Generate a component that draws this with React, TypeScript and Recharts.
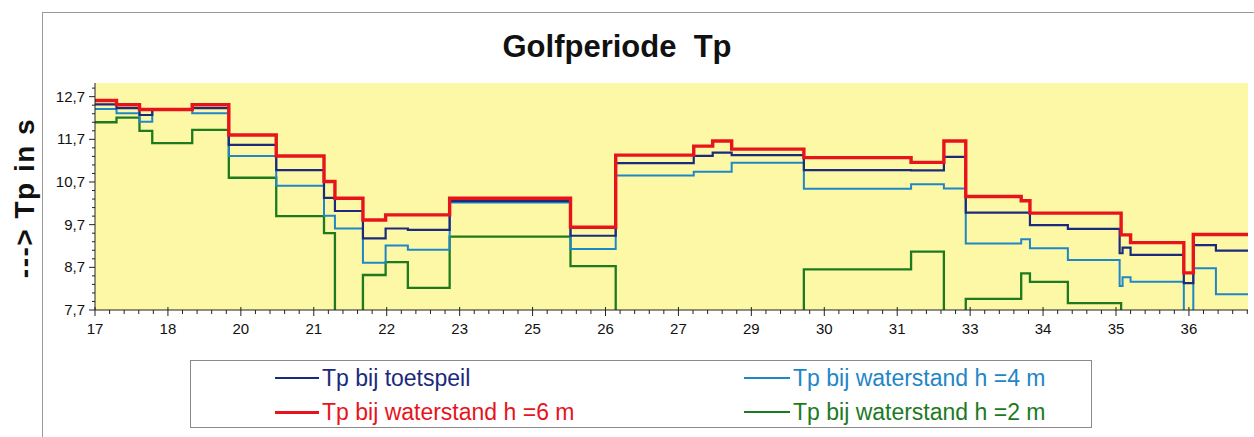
import React from 'react';
import { LineChart, Line, XAxis, YAxis, CartesianGrid } from 'recharts';

// Tick labels (dijkpaal numbers) at evenly spaced positions 0..15
const xTickLabels = ['17', '18', '20', '21', '22', '23', '25', '26', '27', '29', '30', '31', '33', '34', '35', '36'];
const X_MAX = 15.81;
const Y_MIN = 7.7;
const Y_MAX = 13.02;
const BELOW = 7.0; // values below the axis (off-chart)

// [position, Tp] step series (stepAfter)
const tpToetspeil: [number, number][] = [
  [0, 12.52], [0.295, 12.43], [0.61, 12.27], [0.785, 12.4], [1.333, 12.43], [1.835, 11.57],
  [2.485, 10.98], [3.14, 10.33], [3.29, 10.02], [3.674, 9.38], [3.985, 9.61], [4.29, 9.58],
  [4.863, 10.25], [6.52, 9.44], [7.14, 11.14], [8.21, 11.31], [8.47, 11.39], [8.73, 11.33],
  [9.72, 10.98], [11.19, 10.97], [11.64, 11.29], [11.94, 9.98], [12.82, 9.69], [13.34, 9.6],
  [14.05, 9.03], [14.09, 9.16], [14.2, 8.99], [14.93, 8.33], [15.06, 9.22], [15.37, 9.09],
  [15.81, 9.09],
];

const tpH6: [number, number][] = [
  [0, 12.61], [0.295, 12.51], [0.61, 12.4], [1.333, 12.51], [1.835, 11.8], [2.485, 11.31],
  [3.14, 10.71], [3.29, 10.32], [3.674, 9.81], [3.985, 9.93], [4.863, 10.32], [6.52, 9.64],
  [7.14, 11.33], [8.21, 11.54], [8.47, 11.66], [8.73, 11.47], [9.72, 11.27], [11.19, 11.16],
  [11.64, 11.66], [11.94, 10.36], [12.7, 10.26], [12.82, 9.97], [14.07, 9.46], [14.2, 9.28],
  [14.93, 8.57], [15.06, 9.47], [15.81, 9.47],
];

const tpH4: [number, number][] = [
  [0, 12.41], [0.295, 12.31], [0.61, 12.11], [0.785, 12.39], [1.333, 12.31], [1.835, 11.31],
  [2.485, 10.61], [3.14, 9.91], [3.29, 9.61], [3.674, 8.81], [3.985, 9.21], [4.29, 9.11],
  [4.863, 10.22], [6.52, 9.13], [7.14, 10.85], [8.21, 10.94], [8.73, 11.15], [9.72, 10.54],
  [11.19, 10.65], [11.64, 10.55], [11.94, 9.26], [12.7, 9.36], [12.82, 9.15], [13.34, 8.87],
  [14.05, 8.26], [14.09, 8.47], [14.2, 8.36], [14.93, BELOW], [15.06, 8.68], [15.37, 8.07],
  [15.81, 8.07],
];

const tpH2: [number, number][] = [
  [0, 12.1], [0.295, 12.21], [0.61, 11.9], [0.785, 11.61], [1.333, 11.92], [1.835, 10.8],
  [2.485, 9.9], [3.14, 9.5], [3.29, BELOW], [3.674, 8.52], [3.985, 8.82], [4.29, 8.22],
  [4.863, 9.42], [6.52, 8.73], [7.14, BELOW], [9.72, 8.65], [11.19, 9.07], [11.64, BELOW],
  [11.94, 7.96], [12.7, 8.56], [12.82, 8.36], [13.34, 7.86], [14.07, BELOW], [15.81, BELOW],
];

const series = [
  { name: 'Tp bij waterstand h =2 m', data: tpH2, color: '#1d7a1f', width: 2.3 },
  { name: 'Tp bij waterstand h =4 m', data: tpH4, color: '#1f86c8', width: 2 },
  { name: 'Tp bij toetspeil', data: tpToetspeil, color: '#1c2a7c', width: 2.2 },
  { name: 'Tp bij waterstand h =6 m', data: tpH6, color: '#e8141c', width: 3.4 },
];

const xTicks = Array.from({ length: 80 }, (_, i) => i / 5);
const yTicks = Array.from({ length: 27 }, (_, i) => Y_MIN + i * 0.2);

const FONT = '"Liberation Sans", Arial, sans-serif';

const XTick = (props: any) => {
  const { x, y, payload } = props;
  const idx = Math.round(payload.value * 5);
  const major = idx % 5 === 0;
  return (
    <g>
      <line x1={x} x2={x} y1={major ? y - 3 : y} y2={major ? y + 6 : y + 4} stroke="#222" strokeWidth={1} />
      {major && (
        <text x={x} y={y + 24} textAnchor="middle" fontSize={15} fontFamily={FONT} fill="#111">
          {xTickLabels[idx / 5]}
        </text>
      )}
    </g>
  );
};

const YTick = (props: any) => {
  const { x, y, payload } = props;
  const idx = Math.round((payload.value - Y_MIN) / 0.2);
  const major = idx % 5 === 0;
  return (
    <g>
      <line x1={major ? x - 6 : x - 3} x2={x} y1={y} y2={y} stroke="#222" strokeWidth={1} />
      {major && (
        <text x={x - 10} y={y + 5} textAnchor="end" fontSize={15} fontFamily={FONT} fill="#111">
          {(Y_MIN + idx * 0.2).toFixed(1).replace('.', ',')}
        </text>
      )}
    </g>
  );
};

const legendRows = [
  [series[2], series[1]],
  [series[3], series[0]],
];

export default function App() {
  return (
    <div
      style={{
        position: 'absolute',
        left: 0,
        top: 0,
        width: 1254,
        height: 437,
        background: '#ffffff',
        overflow: 'hidden',
        fontFamily: FONT,
      }}
    >
      <div
        style={{
          position: 'absolute',
          left: 42,
          top: 12,
          width: 1300,
          height: 500,
          border: '1px solid #9a9a9a',
        }}
      />
      <div
        style={{
          position: 'absolute',
          left: 0,
          width: 1254,
          top: 29,
          textAlign: 'center',
          fontSize: 31,
          fontWeight: 'bold',
          whiteSpace: 'pre',
          color: '#111',
        }}
      >
        <span style={{ position: 'relative', left: -10 }}>Golfperiode  Tp</span>
      </div>
      <div
        style={{
          position: 'absolute',
          left: 25,
          top: 198,
          transform: 'translate(-50%, -50%) rotate(-90deg)',
          fontSize: 28,
          fontWeight: 'bold',
          whiteSpace: 'pre',
          letterSpacing: 1.5,
          color: '#111',
        }}
      >
        {'---> Tp in s'}
      </div>
      <LineChart
        width={1254}
        height={437}
        margin={{ top: 83, right: 6, bottom: 97, left: 50 }}
        style={{ position: 'absolute', left: 0, top: 0 }}
      >
        <CartesianGrid horizontal={false} vertical={false} fill="#fcf8a6" fillOpacity={1} xAxisId="x" yAxisId="y" />
        <XAxis
          xAxisId="t"
          orientation="top"
          type="number"
          dataKey="x"
          domain={[0, X_MAX]}
          height={0}
          tick={false}
          tickLine={false}
          axisLine={{ stroke: '#555' }}
          allowDataOverflow
        />
        <YAxis
          yAxisId="r"
          orientation="right"
          type="number"
          domain={[Y_MIN, Y_MAX]}
          width={0}
          tick={false}
          tickLine={false}
          axisLine={{ stroke: '#555' }}
          allowDataOverflow
        />
        <XAxis
          xAxisId="x"
          type="number"
          dataKey="x"
          domain={[0, X_MAX]}
          ticks={xTicks}
          interval={0}
          height={30}
          tickSize={0}
          tickMargin={0}
          tickLine={false}
          axisLine={{ stroke: '#222' }}
          tick={(p: any) => <XTick {...p} />}
          allowDataOverflow
        />
        <YAxis
          yAxisId="y"
          type="number"
          domain={[Y_MIN, Y_MAX]}
          ticks={yTicks}
          interval={0}
          width={45}
          tickSize={0}
          tickMargin={0}
          tickLine={false}
          axisLine={{ stroke: '#222' }}
          tick={(p: any) => <YTick {...p} />}
          allowDataOverflow
        />
        {series.map((s) => (
          <Line
            key={s.name}
            xAxisId="x"
            yAxisId="y"
            data={s.data.map(([x, v]) => ({ x, v }))}
            dataKey="v"
            type="stepAfter"
            stroke={s.color}
            strokeWidth={s.width}
            dot={false}
            activeDot={false}
            isAnimationActive={false}
            name={s.name}
          />
        ))}
      </LineChart>
      <div
        style={{
          position: 'absolute',
          left: 190,
          top: 360,
          width: 902,
          height: 68,
          border: '1px solid #8a8a8a',
          boxSizing: 'border-box',
        }}
      />
      {legendRows.map((row, r) =>
        row.map((s, c) => (
          <div
            key={s.name}
            style={{
              position: 'absolute',
              left: c === 0 ? 275 : 744,
              top: r === 0 ? 364 : 398,
              height: 28,
              display: 'flex',
              alignItems: 'center',
              fontSize: 23,
              color: s.color,
              whiteSpace: 'pre',
            }}
          >
            <span
              style={{
                display: 'inline-block',
                width: c === 0 ? 44 : 46,
                height: s.width > 3 ? 3 : 2,
                background: s.color,
                marginRight: 3,
              }}
            />
            {s.name}
          </div>
        ))
      )}
    </div>
  );
}
